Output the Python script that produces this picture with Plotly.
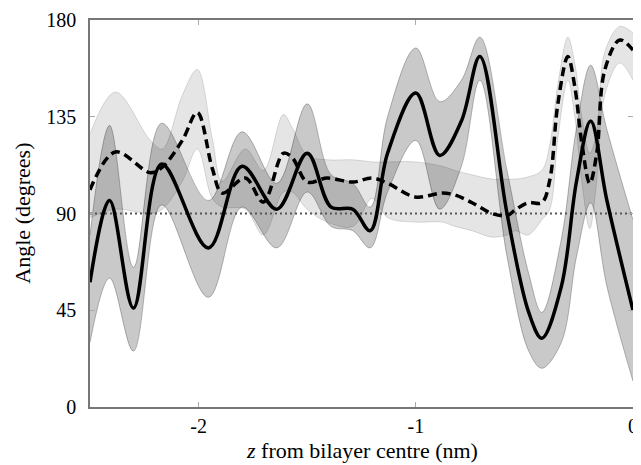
import plotly.graph_objects as go

# Solid series (mean, with dark uncertainty band)
solid_x = [-2.50, -2.41, -2.30, -2.17, -1.955, -1.80, -1.64, -1.50, -1.39, -1.29, -1.21, -1.13,
           -1.00, -0.89, -0.79, -0.705, -0.58, -0.48, -0.42, -0.33, -0.26, -0.195, -0.12, 0.0]
solid_y = [58, 96, 46, 113, 74, 112, 92, 118, 93, 92, 82, 118,
           146, 117, 133, 163, 90, 44, 32, 56, 105, 133, 96, 45]
solid_hi = [80, 131, 65, 132, 96, 128, 104, 141, 108, 104, 93, 135,
            167, 142, 152, 172, 110, 62, 44, 78, 130, 159, 129, 87]
solid_lo = [30, 60, 26, 94, 51, 93, 74, 100, 84, 82, 74, 100,
            124, 92, 112, 152, 70, 26, 18, 30, 70, 95, 56, 12]

# Dashed series (mean, with light uncertainty band)
dash_x = [-2.50, -2.383, -2.222, -2.167, -2.075, -2.006, -1.937, -1.891, -1.785, -1.702, -1.610,
          -1.569, -1.500, -1.408, -1.289, -1.201, -1.128, -1.003, -0.879, -0.820, -0.741, -0.649,
          -0.580, -0.543, -0.484, -0.420, -0.383, -0.346, -0.300, -0.268, -0.236, -0.199, -0.167,
          -0.130, -0.061, 0.0]
dash_y = [101, 118.6, 109, 111.6, 124, 137, 111, 99.5, 106.5, 95.3, 118,
          116, 104.6, 106.5, 104.6, 106.5, 104, 97.7, 99.5, 98.6, 95, 90,
          89, 91.6, 95, 95, 105.6, 141, 163, 149, 123, 104, 118,
          156.7, 170.7, 166]
dash_hi = [127, 146.5, 124, 120, 145, 157, 125, 105, 120, 110, 136,
           130, 117, 115, 115, 114, 114, 114, 112, 110, 108, 106,
           106, 106, 107, 110, 122, 150, 172, 160, 135, 118, 128,
           165, 177, 174]
dash_lo = [88, 92, 90, 92, 105, 120, 97, 93, 92, 80, 100,
           100, 92, 86, 84, 97, 88, 86, 86, 84, 82, 79,
           80, 82, 80, 87, 92, 125, 152, 135, 105, 83, 105,
           145, 160, 152]

ref_y = 90
x_ticks = [-2, -1, 0]
x_ticklabels = ["-2", "-1", "0"]
y_ticks = [0, 45, 90, 135, 180]

fig = go.Figure()

def band(x, hi, lo, fill, edge):
    fig.add_trace(go.Scatter(x=x, y=hi, mode="lines",
                             line=dict(color=edge, width=1, shape="spline", smoothing=1.0),
                             hoverinfo="skip", showlegend=False))
    fig.add_trace(go.Scatter(x=x, y=lo, mode="lines", fill="tonexty", fillcolor=fill,
                             line=dict(color=edge, width=1, shape="spline", smoothing=1.0),
                             hoverinfo="skip", showlegend=False))

band(dash_x, dash_hi, dash_lo, "rgba(0,0,0,0.10)", "rgba(0,0,0,0.13)")
band(solid_x, solid_hi, solid_lo, "rgba(0,0,0,0.21)", "rgba(0,0,0,0.26)")

fig.add_trace(go.Scatter(x=[-2.5, 0], y=[ref_y, ref_y], mode="lines",
                         line=dict(color="#555555", width=2, dash="2px,3px"), showlegend=False))
fig.add_trace(go.Scatter(x=dash_x, y=dash_y, mode="lines",
                         line=dict(color="black", width=3.5, dash="9px,5px", shape="spline", smoothing=1.0),
                         showlegend=False))
fig.add_trace(go.Scatter(x=solid_x, y=solid_y, mode="lines",
                         line=dict(color="black", width=3.5, shape="spline", smoothing=1.0),
                         showlegend=False))

tick_font = dict(family="Liberation Serif", size=20, color="black")
title_font = dict(family="Liberation Serif", size=22, color="black")
fig.update_layout(
    width=633, height=457,
    margin=dict(l=82, r=8, t=12, b=58),
    plot_bgcolor="white", paper_bgcolor="white",
    font=tick_font,
    xaxis=dict(range=[-2.5, 0], tickvals=x_ticks, ticktext=x_ticklabels,
               ticks="inside", ticklen=5, tickcolor="#aaaaaa", automargin=False,
               showline=True, linecolor="#777777", linewidth=1.5, mirror="allticks",
               showgrid=False, zeroline=False, ticklabelstandoff=0, tickfont=tick_font),
    yaxis=dict(range=[0, 180], tickvals=y_ticks,
               ticks="inside", ticklen=5, tickcolor="#aaaaaa", automargin=False,
               showline=True, linecolor="#777777", linewidth=1.5, mirror="allticks",
               showgrid=False, zeroline=False, ticklabelstandoff=8, tickfont=tick_font),
    annotations=[
        dict(text="<i>z</i> from bilayer centre (nm)", xref="paper", yref="paper",
             x=0.5, y=-0.113, xanchor="center", yanchor="middle", showarrow=False, font=title_font),
        dict(text="Angle (degrees)", xref="paper", yref="paper", textangle=-90,
             x=-0.125, y=0.5, xanchor="center", yanchor="middle", showarrow=False, font=title_font),
    ],
)

fig.write_html("out.html")
